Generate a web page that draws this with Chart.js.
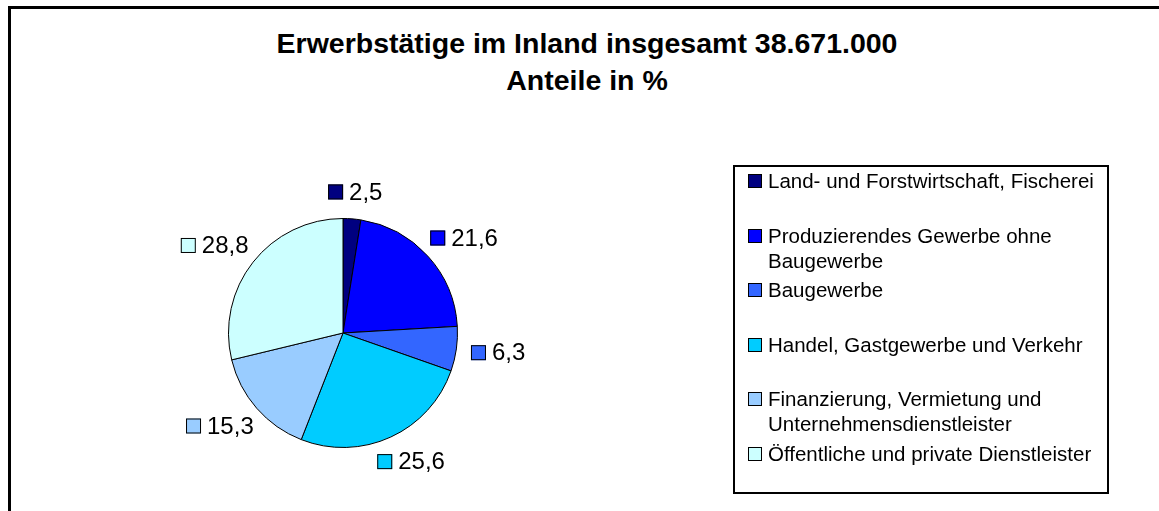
<!DOCTYPE html>
<html>
<head>
<meta charset="utf-8">
<script src="https://cdn.jsdelivr.net/npm/chart.js@4"></script>
<style>
    body { margin: 0; background: #fff; font-family: "Liberation Sans", Arial, sans-serif; }
    #wrap { position: relative; width: 1159px; height: 511px; overflow: hidden; }
    #frame { position: absolute; left: 8px; top: 6px; width: 1170px; height: 530px; border: 3px solid #000; box-sizing: border-box; }
    #title { position: absolute; left: 0; top: 25px; width: 1174px; text-align: center; font-weight: bold; font-size: 28.5px; line-height: 37px; color: #000; }
    #pie { position: absolute; left: 0; top: 0; }
    #legend { position: absolute; left: 733px; top: 165px; width: 376px; height: 329px; border: 2px solid #000; box-sizing: border-box; padding-top: 1px; }
    .item { position: relative; height: 54.5px; font-size: 20.5px; line-height: 25px; }
    .item .box { position: absolute; left: 13px; top: 6px; width: 12px; height: 12px; border: 1px solid #000; }
    .item .txt { position: absolute; left: 33px; top: 0; width: 338px; color: #000; }
</style>
</head>
<body>
<div id="wrap">
    <div id="frame"></div>
    <div id="title">Erwerbstätige im Inland insgesamt 38.671.000<br>Anteile in %</div>
    <canvas id="pie" width="1159" height="511"></canvas>
    <div id="legend"></div>
</div>
<script>
// -------------------------------
// Daten
// -------------------------------
const categories = [
    "Land- und Forstwirtschaft, Fischerei",
    "Produzierendes Gewerbe ohne Baugewerbe",
    "Baugewerbe",
    "Handel, Gastgewerbe und Verkehr",
    "Finanzierung, Vermietung und Unternehmensdienstleister",
    "Öffentliche und private Dienstleister"
];
const shares = [2.5, 21.6, 6.3, 25.6, 15.3, 28.8];
const colors = ["#000080", "#0000FF", "#3366FF", "#00CCFF", "#99CCFF", "#CCFFFF"];

// -------------------------------
// Legende
// -------------------------------
let html = "";
categories.forEach((c, i) => {
    html += `
        <div class="item">
            <div class="box" style="background:${colors[i]}"></div>
            <div class="txt">${c}</div>
        </div>
    `;
});
document.getElementById("legend").innerHTML = html;

// -------------------------------
// Beschriftungen aussen am Kreis
// -------------------------------
const outsideLabels = {
    id: "outsideLabels",
    afterDatasetsDraw(chart) {
        const ctx = chart.ctx;
        const meta = chart.getDatasetMeta(0);
        ctx.save();
        ctx.font = "24px 'Liberation Sans', Arial, sans-serif";
        ctx.textBaseline = "middle";
        ctx.textAlign = "left";
        meta.data.forEach((arc, i) => {
            const mid = (arc.startAngle + arc.endAngle) / 2;
            const dx = Math.cos(mid), dy = Math.sin(mid);
            const r = arc.outerRadius + 15;
            const ax = arc.x + dx * r, ay = arc.y + dy * r;
            const text = shares[i].toFixed(1).replace(".", ",");
            const tw = ctx.measureText(text).width;
            const box = 15, gap = 6;
            const w = box + gap + tw, h = 24;
            const cx = ax + dx * w / 2, cy = ay + dy * h / 2;
            const left = cx - w / 2;
            ctx.fillStyle = colors[i];
            ctx.fillRect(left, cy - box / 2, box, box);
            ctx.strokeStyle = "#000";
            ctx.lineWidth = 1;
            ctx.strokeRect(left + 0.5, cy - box / 2 + 0.5, box - 1, box - 1);
            ctx.fillStyle = "#000";
            ctx.fillText(text, left + box + gap, cy + 1);
        });
        ctx.restore();
    }
};

// -------------------------------
// Kreisdiagramm
// -------------------------------
new Chart(document.getElementById("pie"), {
    type: "pie",
    data: {
        labels: categories,
        datasets: [{
            data: shares,
            backgroundColor: colors,
            borderColor: "#000",
            borderWidth: 1
        }]
    },
    options: {
        responsive: false,
        animation: false,
        layout: { padding: { left: 228, right: 701, top: 218, bottom: 63 } },
        plugins: {
            legend: { display: false },
            tooltip: { enabled: false }
        }
    },
    plugins: [outsideLabels]
});
</script>
</body>
</html>
